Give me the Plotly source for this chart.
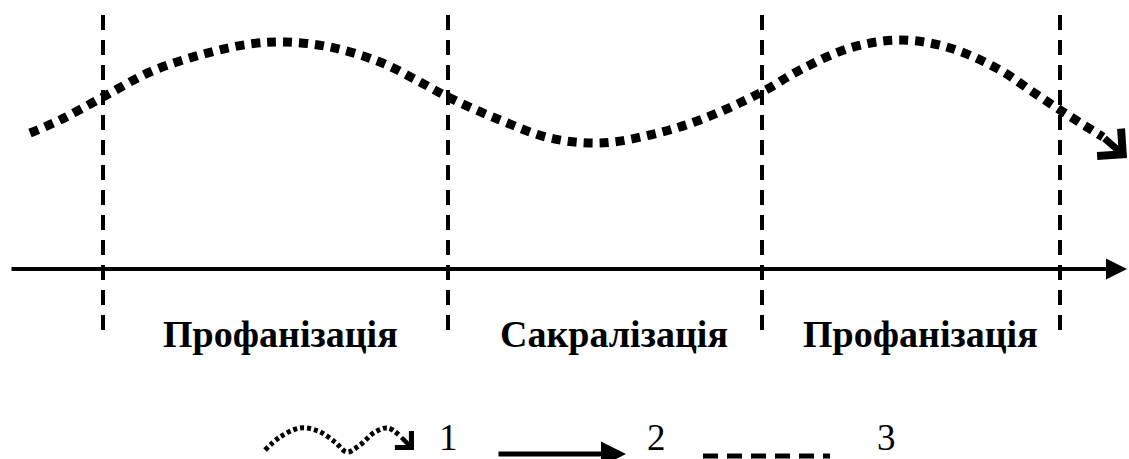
import plotly.graph_objects as go

# schematic coordinates (canvas units: x 0..1129 left->right, y 0..459 top->bottom)
wave_x = [30, 60, 103, 150, 200, 250, 285, 330, 380, 420, 448, 500, 550, 600,
          650, 700, 762, 800, 850, 900, 950, 1000, 1030, 1060, 1103, 1127]
wave_y = [133, 120, 97, 72, 55, 44, 42, 47, 62, 82, 97, 120, 138, 143,
          135, 120, 92, 70, 48, 40, 48, 70, 90, 110, 137, 158]

boundary_x = [103, 448, 762, 1060]
boundary_top = 15
boundary_bottom = 330

axis_x = [10, 1127]
axis_y = 269

stage_labels = ["Профанізація", "Сакралізація", "Профанізація"]
stage_x = [280, 614, 920]
stage_y = 334

# legend
leg_wave_x = [265, 280, 300, 318, 335, 347, 360, 375, 388, 400, 414]
leg_wave_y = [450, 437, 428, 431, 442, 452, 445, 432, 428, 436, 450]
leg_arrow_x = [497, 626]
leg_arrow_y = 454
leg_dash_x = [703, 830]
leg_dash_y = 456
leg_labels = ["1", "2", "3"]
leg_label_x = [448, 656, 886]
leg_label_y = 437

fig = go.Figure()

# vertical boundaries (3)
for bx in boundary_x:
    fig.add_trace(go.Scatter(
        x=[bx, bx], y=[boundary_top, boundary_bottom], mode="lines",
        line=dict(color="black", width=4, dash="15px,10px"),
        hoverinfo="skip", showlegend=False))

# time axis (2) - drawn as an arrow
fig.add_annotation(x=axis_x[1], y=axis_y, ax=axis_x[0], ay=axis_y,
                   xref="x", yref="y", axref="x", ayref="y", text="",
                   showarrow=True, arrowhead=2, arrowsize=1.05, arrowwidth=4,
                   arrowcolor="black")

# wave (1)
fig.add_trace(go.Scatter(
    x=wave_x[:-1], y=wave_y[:-1], mode="lines", line_shape="spline",
    line=dict(color="black", width=9, dash="9px,7px"),
    hoverinfo="skip", showlegend=False))
fig.add_annotation(x=wave_x[-1], y=wave_y[-1], ax=wave_x[-2], ay=wave_y[-2],
                   xref="x", yref="y", axref="x", ayref="y", text="",
                   showarrow=True, arrowhead=4, arrowsize=1, arrowwidth=7,
                   arrowcolor="black")

# stage labels
for txt, sx in zip(stage_labels, stage_x):
    fig.add_annotation(x=sx, y=stage_y, text=txt, showarrow=False,
                       font=dict(family="Liberation Serif", size=38, color="black",
                                 weight="bold"))

# legend items
fig.add_trace(go.Scatter(
    x=leg_wave_x[:-1], y=leg_wave_y[:-1], mode="lines", line_shape="spline",
    line=dict(color="black", width=5, dash="4px,3px"),
    hoverinfo="skip", showlegend=False))
fig.add_annotation(x=leg_wave_x[-1], y=leg_wave_y[-1], ax=leg_wave_x[-2], ay=leg_wave_y[-2],
                   xref="x", yref="y", axref="x", ayref="y", text="",
                   showarrow=True, arrowhead=4, arrowsize=1, arrowwidth=4.5,
                   arrowcolor="black")
fig.add_annotation(x=leg_arrow_x[1], y=leg_arrow_y, ax=leg_arrow_x[0], ay=leg_arrow_y,
                   xref="x", yref="y", axref="x", ayref="y", text="",
                   showarrow=True, arrowhead=2, arrowsize=1, arrowwidth=5,
                   arrowcolor="black")
fig.add_trace(go.Scatter(
    x=leg_dash_x, y=[leg_dash_y, leg_dash_y], mode="lines",
    line=dict(color="black", width=5, dash="15px,9px"),
    hoverinfo="skip", showlegend=False))
for txt, lx in zip(leg_labels, leg_label_x):
    fig.add_annotation(x=lx, y=leg_label_y, text=txt, showarrow=False,
                       font=dict(family="Liberation Serif", size=37, color="black"))

fig.update_layout(
    width=1129, height=459,
    margin=dict(l=0, r=0, t=0, b=0),
    paper_bgcolor="white", plot_bgcolor="white",
    xaxis=dict(range=[0, 1129], visible=False, fixedrange=True),
    yaxis=dict(range=[459, 0], visible=False, fixedrange=True),
)

# page body has a default 8px margin; drop it so the canvas sits at 0,0
fig.write_html("out.html", config={"displayModeBar": False},
               post_script="document.body.style.margin='0';")
